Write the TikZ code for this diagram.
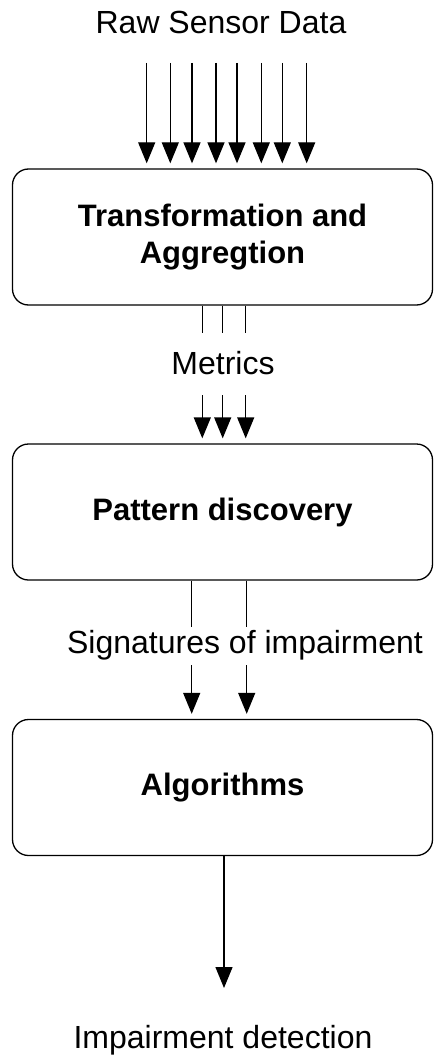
\documentclass[tikz,border=0pt]{standalone}
\usepackage{fontspec}
\setmainfont{Liberation Sans}
\usetikzlibrary{arrows.meta}
\begin{document}
\begin{tikzpicture}[x=1pt,y=-1pt,
  stage/.style={draw=black,line width=1.3pt,rounded corners=16pt,minimum width=420pt,minimum height=136pt,inner sep=0pt,align=center,font=\fontsize{31}{37}\selectfont\bfseries},
  lbl/.style={inner sep=0pt,font=\fontsize{32}{38}\selectfont},
  flow/.style={line width=1.3pt,-{Triangle[width=17pt,length=21pt]}},
  wire/.style={line width=1.3pt}]
\useasboundingbox (0,0) rectangle (434,1059);
\node[lbl] (raw) at (221,22) {Raw Sensor Data};
\node[stage] (b1) at (222.5,237) {Transformation and\\Aggregtion};
\node[stage] (b2) at (222.5,512) {Pattern discovery};
\node[stage] (b3) at (222.5,787.5) {Algorithms};
\node[lbl] (met) at (223,363) {Metrics};
\node[lbl] (sig) at (245,645) {Signatures of impairment};
\node[lbl] (imp) at (223,1040) {Impairment detection};
% raw sensor arrows
\foreach \i/\x in {1/146.7,2/170.3,3/192,4/216,5/237,6/261.3,7/282.3,8/306.7}{
  \coordinate (r\i) at (\x,63);
  \draw[flow,shorten >=5pt] (r\i) -- (r\i |- b1.north);
}
% metrics
\foreach \i/\x in {1/202.3,2/222.7,3/245.7}{
  \coordinate (ma\i) at (\x,333);
  \coordinate (mb\i) at (\x,395);
  \draw[wire] (ma\i |- b1.south) -- (ma\i);
  \draw[flow,shorten >=5pt] (mb\i) -- (mb\i |- b2.north);
}
% signatures
\foreach \i/\x in {1/191.7,2/246.7}{
  \coordinate (sa\i) at (\x,627);
  \coordinate (sb\i) at (\x,665);
  \draw[wire] (sa\i |- b2.south) -- (sa\i);
  \draw[flow,shorten >=5pt] (sb\i) -- (sb\i |- b3.north);
}
% output
\coordinate (out) at (224,988);
\draw[flow] (out |- b3.south) -- (out);
\end{tikzpicture}
\end{document}
